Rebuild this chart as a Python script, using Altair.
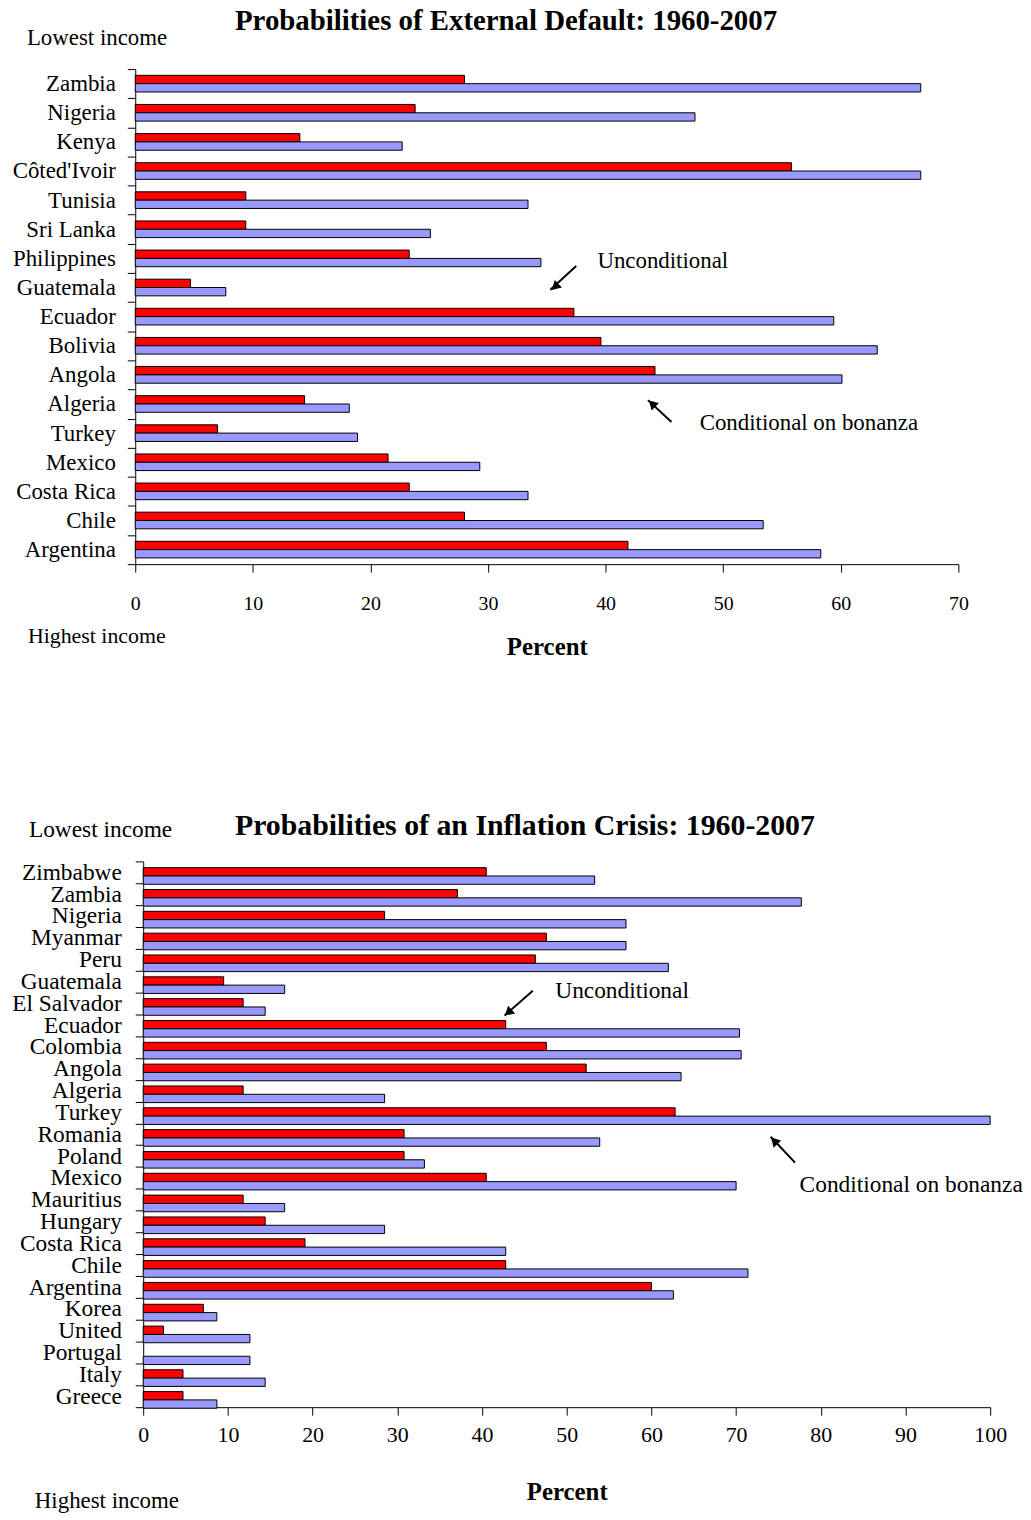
import altair as alt
import pandas as pd

FONT = "Liberation Serif"
SERIES = ["Unconditional", "Conditional on bonanza"]
COLORS = ["#FF0000", "#9999FF"]

# ---------------- Panel 1: external default ----------------
default_title = "Probabilities of External Default: 1960-2007"
default_countries = ["Zambia", "Nigeria", "Kenya", "Côted'Ivoir", "Tunisia", "Sri Lanka",
                     "Philippines", "Guatemala", "Ecuador", "Bolivia", "Angola", "Algeria",
                     "Turkey", "Mexico", "Costa Rica", "Chile", "Argentina"]
default_uncond = [28.0, 23.8, 14.0, 55.8, 9.4, 9.4, 23.3, 4.7, 37.3, 39.6, 44.2, 14.4,
                  7.0, 21.5, 23.3, 28.0, 41.9]
default_cond = [66.8, 47.6, 22.7, 66.8, 33.4, 25.1, 34.5, 7.7, 59.4, 63.1, 60.1, 18.2,
                18.9, 29.3, 33.4, 53.4, 58.3]
default_ticks = [0, 10, 20, 30, 40, 50, 60, 70]

# ---------------- Panel 2: inflation crisis ----------------
inflation_title = "Probabilities of an Inflation Crisis: 1960-2007"
inflation_countries = ["Zimbabwe", "Zambia", "Nigeria", "Myanmar", "Peru", "Guatemala",
                       "El Salvador", "Ecuador", "Colombia", "Angola", "Algeria", "Turkey",
                       "Romania", "Poland", "Mexico", "Mauritius", "Hungary", "Costa Rica",
                       "Chile", "Argentina", "Korea", "United", "Portugal", "Italy", "Greece"]
inflation_uncond = [40.5, 37.1, 28.5, 47.6, 46.3, 9.5, 11.8, 42.8, 47.6, 52.3, 11.8, 62.8,
                    30.8, 30.8, 40.5, 11.8, 14.4, 19.1, 42.8, 60.0, 7.1, 2.4, 0.0, 4.7, 4.7]
inflation_cond = [53.3, 77.7, 57.0, 57.0, 62.0, 16.7, 14.4, 70.4, 70.6, 63.5, 28.5, 100.0,
                  53.9, 33.2, 70.0, 16.7, 28.5, 42.8, 71.4, 62.6, 8.7, 12.6, 12.6, 14.4, 8.7]
inflation_ticks = [0, 10, 20, 30, 40, 50, 60, 70, 80, 90, 100]

LOW_LABEL = "Lowest income"
HIGH_LABEL = "Highest income"


def long_frame(countries, uncond, cond):
    rows = []
    for c, u, k in zip(countries, uncond, cond):
        rows.append({"country": c, "series": SERIES[0], "value": u})
        rows.append({"country": c, "series": SERIES[1], "value": k})
    return pd.DataFrame(rows)


def text_layer(label, x, y, size, align="left", weight="normal"):
    return alt.Chart(pd.DataFrame({"label": [label]})).mark_text(
        font=FONT, fontSize=size, fontWeight=weight, align=align,
        baseline="middle", color="black"
    ).encode(x=x, y=y, text="label:N")


def arrow(x1, x2, y1, y2, hx, hy, angle):
    df = pd.DataFrame({"k": [0]})
    line = alt.Chart(df).mark_rule(color="black", strokeWidth=2).encode(
        x=alt.datum(x1), x2=alt.datum(x2), y=alt.value(y1), y2=alt.value(y2))
    head = alt.Chart(df).mark_point(
        shape="triangle-up", filled=True, size=110, angle=angle,
        color="black", opacity=1, strokeWidth=0
    ).encode(x=alt.datum(hx), y=alt.value(hy))
    return [line, head]


def panel(countries, uncond, cond, ticks, xmax, width, height, ylab_size, ylab_pad,
          xlab_size, xlab_pad, xtitle_y, inset):
    df = long_frame(countries, uncond, cond)
    bars = alt.Chart(df).transform_filter("datum.value > 0").mark_bar(
        stroke="black", strokeWidth=1
    ).encode(
        y=alt.Y("country:N",
                scale=alt.Scale(domain=countries, paddingInner=0, paddingOuter=0),
                axis=alt.Axis(title=None, tickBand="extent", tickSize=8, tickColor="black",
                              domainColor="black", labelColor="black", labelFont=FONT,
                              labelFontSize=ylab_size, labelPadding=ylab_pad, labelLimit=300,
                              grid=False, offset=-inset)),
        yOffset=alt.YOffset("series:N",
                            scale=alt.Scale(domain=SERIES, paddingInner=0, paddingOuter=0.75)),
        x=alt.X("value:Q",
                scale=alt.Scale(domain=[0, xmax], nice=False, zero=True,
                                range=[inset, inset + width]),
                axis=alt.Axis(values=ticks, title="Percent", titleFont=FONT, titleFontSize=25,
                              titleFontWeight="bold", titleColor="black", titleY=xtitle_y,
                              titleBaseline="middle", labelFont=FONT, labelFontSize=xlab_size,
                              labelPadding=xlab_pad, labelColor="black", labelFlush=False,
                              tickSize=8, tickColor="black", domainColor="black", grid=False)),
        color=alt.Color("series:N", scale=alt.Scale(domain=SERIES, range=COLORS), legend=None),
    ).properties(width=width + inset, height=height)
    return bars


# ----- top panel -----
top_bars = panel(default_countries, default_uncond, default_cond, default_ticks, 70,
                 828, 498, 23, 12, 20, 22, 83, 0)
top_layers = [top_bars,
              text_layer(default_title, alt.value(373), alt.value(-48), 29, "center", "bold"),
              text_layer(LOW_LABEL, alt.value(-109), alt.value(-31), 23),
              text_layer(HIGH_LABEL, alt.value(-108), alt.value(570), 22),
              text_layer(SERIES[0], alt.datum(39.3), alt.value(193), 23),
              text_layer(SERIES[1], alt.datum(48.0), alt.value(356), 23)]
top_layers += arrow(37.5, 35.3, 198, 222, 35.7, 219, 227)
top_layers += arrow(45.6, 43.6, 355, 333, 43.95, 336.5, 314)
top = alt.layer(*top_layers)

# ----- bottom panel (plot starts 8px right of the top panel's) -----
INSET = 8
bot_bars = panel(inflation_countries, inflation_uncond, inflation_cond, inflation_ticks, 100,
                 852, 549, 23.5, 14, 22, 10, 85, INSET)
bot_layers = [bot_bars,
              text_layer(inflation_title, alt.value(384 + INSET), alt.value(-36), 30, "center", "bold"),
              text_layer(LOW_LABEL, alt.value(-115 + INSET), alt.value(-32), 23.5),
              text_layer(HIGH_LABEL, alt.value(-109 + INSET), alt.value(643), 23),
              text_layer(SERIES[0], alt.datum(48.65), alt.value(130), 23.5),
              text_layer(SERIES[1], alt.datum(77.5), alt.value(326), 23.5)]
bot_layers += arrow(46.0, 42.66, 130, 155, 43.1, 152, 228)
bot_layers += arrow(76.96, 74.08, 303, 277, 74.5, 281, 316)
bottom = alt.layer(*bot_layers)

chart = alt.vconcat(top, bottom, spacing=152).properties(
    padding={"left": 3, "top": -5, "right": 0, "bottom": 0}
).configure_view(stroke=None)

chart.save("out.html", embed_options={"renderer": "svg", "actions": False})
